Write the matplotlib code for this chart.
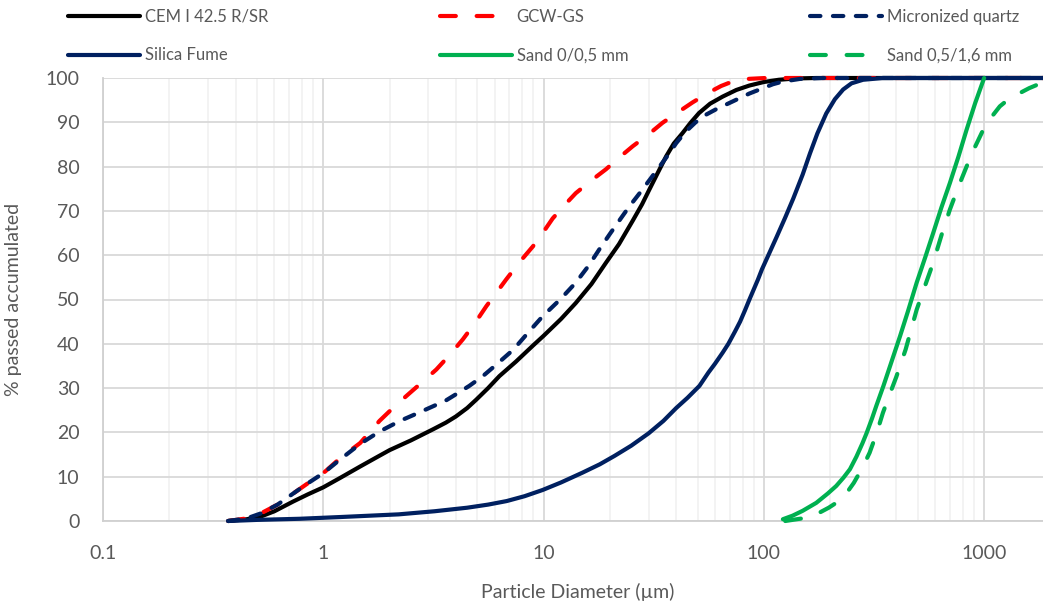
import matplotlib
matplotlib.use("Agg")
import matplotlib.pyplot as plt
from matplotlib.ticker import LogLocator, FixedLocator, FixedFormatter, NullFormatter

plt.rcParams['font.family'] = ['Lato', 'DejaVu Sans']

# particle size distributions, % passed
cem_x = [0.37, 0.45, 0.52, 0.6, 0.73, 0.85, 1.0, 1.2, 1.47, 1.75, 2.0, 2.5, 3.15, 3.6, 4.0,
         4.5, 4.95, 5.6, 6.3, 7.5, 8.95, 10, 12, 14, 16.5, 19.2, 22, 25.4, 28, 30.2, 33,
         36, 39, 42.8, 46.5, 50.8, 57, 65, 75, 86, 100, 117, 140, 173, 1850]
cem_y = [0, 0.4, 1.0, 2.2, 4.4, 6.0, 7.6, 9.8, 12.3, 14.4, 16.0, 18.2, 20.7, 22.2, 23.6,
         25.5, 27.4, 30.0, 32.7, 36.0, 39.6, 41.8, 45.6, 49.2, 53.5, 58.3, 62.5, 67.8, 71.5,
         74.8, 78.6, 82.3, 85.2, 87.6, 89.9, 92.1, 94.2, 95.8, 97.3, 98.3, 99.1, 99.6, 99.9,
         100, 100]

gcw_x = [0.37, 0.45, 0.52, 0.62, 0.73, 0.85, 1.0, 1.2, 1.47, 1.8, 2.1, 2.47, 2.85, 3.26,
         3.75, 4.3, 4.9, 5.5, 6.1, 6.76, 7.8, 8.95, 10, 11, 12.5, 14, 16.5, 19.2, 22, 25.4,
         30, 34.7, 40, 47.5, 56.6, 64, 72, 85, 102, 1850]
gcw_y = [0, 0.6, 1.7, 3.7, 6.2, 8.5, 10.8, 14.3, 17.6, 22.6, 25.8, 28.9, 31.6, 34.2,
         37.5, 41, 44.8, 48.5, 51.5, 54.5, 58.5, 62, 65.3, 68.3, 71.4, 74, 76.9, 79.4, 82,
         84.6, 87.3, 89.9, 92, 94.5, 96.8, 98.2, 99.2, 99.8, 100, 100]

quartz_x = [0.37, 0.45, 0.52, 0.62, 0.73, 0.85, 1.0, 1.2, 1.47, 1.8, 2.23, 2.7, 3.15, 3.6,
            4.0, 4.6, 5.3, 6.2, 7.3, 8.5, 9.9, 12, 14, 16, 17.9, 20, 22.2, 24.5, 27.3,
            30.3, 33.6, 37, 40, 44, 49, 55, 61, 68, 75, 86, 99, 110, 122, 146, 185, 1850]
quartz_y = [0, 0.6, 1.7, 3.7, 6.2, 8.5, 10.8, 14.0, 17.4, 20.2, 22.6, 24.4, 25.9, 27.2,
            28.6, 30.5, 32.7, 35.6, 38.7, 42.5, 46.2, 50.2, 53.8, 57.6, 61.3, 64.8, 68, 71,
            74, 77, 80, 82.8, 85.3, 87.8, 90, 91.8, 93, 94.1, 95.1, 96.5, 97.7, 98.6, 99.2,
            99.8, 100, 100]

sf_x = [0.37, 0.5, 0.78, 1.2, 2.2, 3.2, 4.5, 5.6, 6.8, 8.2, 9.9, 12, 15, 18, 21, 25, 30,
        35, 40, 45, 51, 56, 60, 65, 69, 74, 78, 82, 86, 90, 94, 98, 102, 114, 125, 136,
        150, 162, 175, 192, 210, 229, 250, 282, 347, 1850]
sf_y = [0, 0.25, 0.5, 0.9, 1.5, 2.2, 3.0, 3.7, 4.5, 5.6, 7.0, 8.7, 10.9, 12.8, 14.7, 17.0,
        19.8, 22.6, 25.5, 27.8, 30.5, 33.5, 35.5, 38, 40, 42.8, 45, 47.5, 50, 52.3, 54.5,
        56.8, 58.7, 64, 68.5, 72.8, 78.2, 83, 87.5, 92, 95.2, 97.4, 98.8, 99.6, 100, 100]

sand1_x = [122, 135, 150, 173, 195, 213, 230, 246, 263, 280, 293, 310, 324, 349, 380, 415,
           450, 494, 540, 587, 640, 699, 765, 832, 910, 1000]
sand1_y = [0.4, 1.2, 2.3, 4.1, 6.2, 7.9, 9.8, 11.7, 14.5, 17.5, 19.9, 23.2, 26.0, 30.5, 36,
           41.7, 47.2, 53.8, 59.5, 65, 70.8, 76.3, 82.3, 88.3, 94.3, 100]

sand2_x = [125, 150, 179, 197, 213, 235, 256, 280, 302, 325, 347, 372, 399, 440, 494, 540,
           587, 640, 699, 765, 832, 910, 990, 1080, 1178, 1290, 1401, 1600, 1846]
sand2_y = [0, 0.6, 1.9, 3.0, 4.1, 6.0, 8.6, 12, 15.4, 19.8, 24.4, 28.5, 32.5, 38.7, 47.7,
           53.2, 58.3, 64.5, 70.3, 75.5, 80, 84.5, 88.3, 91.2, 93.6, 95.2, 96.2, 97.7, 99.0]

series = [
    ("CEM I 42.5 R/SR", cem_x, cem_y, "#000000", "-"),
    ("GCW-GS", gcw_x, gcw_y, "#FF0000", (0, (3.8, 5.0))),
    ("Micronized quartz", quartz_x, quartz_y, "#002060", (0, (2.5, 3.0))),
    ("Silica Fume", sf_x, sf_y, "#002060", "-"),
    ("Sand 0/0,5 mm", sand1_x, sand1_y, "#00B050", "-"),
    ("Sand 0,5/1,6 mm", sand2_x, sand2_y, "#00B050", (0, (3.8, 5.0))),
]

fig = plt.figure(figsize=(10.43, 6.08), dpi=100)
ax = fig.add_axes([103 / 1043, 1 - 521 / 608, 940 / 1043, 443 / 608])

handles = []
for label, xs, ys, color, ls in series:
    ln, = ax.plot(xs, ys, color=color, lw=3.0, ls=ls, label=label,
                  solid_capstyle='round', dash_capstyle='round',
                  solid_joinstyle='round', zorder=3, clip_on=False)
    handles.append(ln)

ax.set_xscale('log')
ax.set_xlim(0.1, 1850)
ax.set_ylim(0, 100)
ax.set_yticks(range(0, 101, 10))
ax.xaxis.set_major_locator(FixedLocator([0.1, 1, 10, 100, 1000]))
ax.xaxis.set_major_formatter(FixedFormatter(['0.1', '1', '10', '100', '1000']))
ax.xaxis.set_minor_locator(LogLocator(base=10, subs=range(2, 10)))
ax.xaxis.set_minor_formatter(NullFormatter())

ax.grid(True, which='major', color='#d9d9d9', lw=1.3, zorder=0)
ax.grid(True, which='minor', axis='x', color='#f0f0f0', lw=1.1, zorder=0)
ax.set_axisbelow(True)

for s in ['top', 'right']:
    ax.spines[s].set_visible(False)
for s in ['left', 'bottom']:
    ax.spines[s].set_color('#d0d0d0')
    ax.spines[s].set_linewidth(1.3)

ax.tick_params(axis='both', which='both', length=0, labelsize=14, labelcolor='#595959')
ax.tick_params(axis='y', pad=17)
ax.tick_params(axis='x', pad=17)

ax.set_xlabel('Particle Diameter (µm)', fontsize=14, color='#595959')
ax.set_ylabel('% passed accumulated', fontsize=14, color='#595959')
ax.xaxis.set_label_coords(0.505, -0.14)
ax.yaxis.set_label_coords(-0.086, 0.5)

# legend: three columns placed across the top
cols = [(0, 3, 68), (1, 4, 440), (2, 5, 810)]
for a, b, xpx in cols:
    leg = fig.legend([handles[a], handles[b]], [series[a][0], series[b][0]],
                     loc='upper left', bbox_to_anchor=(xpx / 1043, 1 - 9 / 608),
                     frameon=False, fontsize=12, handlelength=4.3, handletextpad=0.3,
                     labelspacing=1.35, borderpad=0, borderaxespad=0)
    for t in leg.get_texts():
        t.set_color('#595959')

fig.savefig('out.png', dpi=100)
